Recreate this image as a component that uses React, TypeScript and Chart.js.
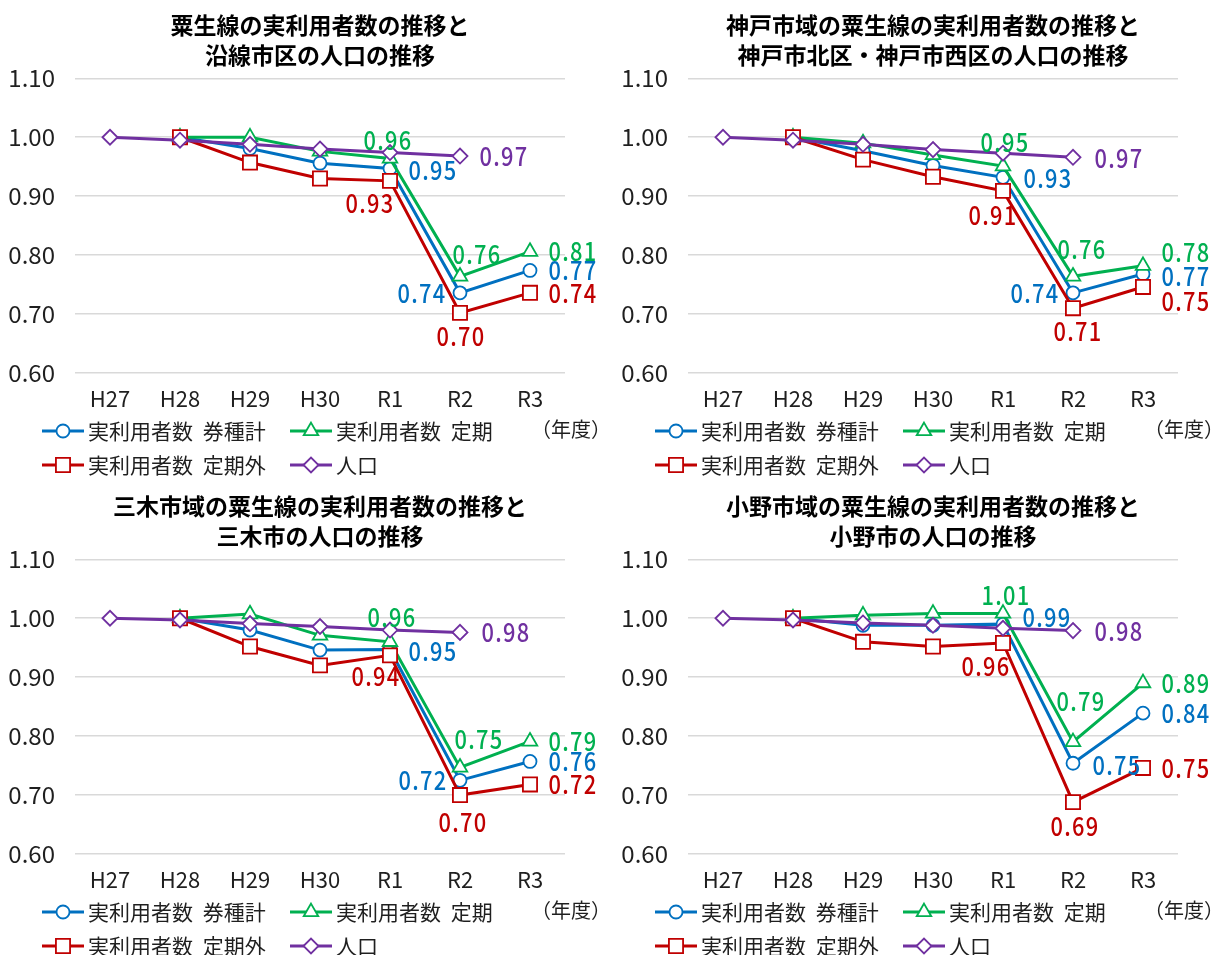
import React, { useEffect, useRef } from 'react';
import { Chart, registerables } from 'chart.js';

Chart.register(...registerables);

// ---------- shared categories / series meta ----------
const YEARS = ['H27', 'H28', 'H29', 'H30', 'R1', 'R2', 'R3'];
const SERIES_NAMES = ['実利用者数 券種計', '実利用者数 定期', '実利用者数 定期外', '人口'];
const SERIES_COLORS = ['#0070C0', '#00B050', '#C00000', '#7030A0'];
const SERIES_MARKERS = ['circle', 'triangle', 'rect', 'rectRot'];
const Y_MIN = 0.6;
const Y_MAX = 1.1;
const Y_STEP = 0.1;
const UNIT_LABEL = '（年度）';

// ---------- chart 1 ----------
const TITLE_1 = ['粟生線の実利用者数の推移と', '沿線市区の人口の推移'];
const TOTAL_1 = [null, 1.0, 0.981, 0.956, 0.947, 0.736, 0.774];
const TEIKI_1 = [null, 1.0, 1.0, 0.976, 0.964, 0.764, 0.806];
const TEIKIGAI_1 = [null, 1.0, 0.957, 0.93, 0.926, 0.702, 0.736];
const POP_1 = [1.0, 0.995, 0.988, 0.98, 0.974, 0.968, null];

// ---------- chart 2 ----------
const TITLE_2 = ['神戸市域の粟生線の実利用者数の推移と', '神戸市北区・神戸市西区の人口の推移'];
const TOTAL_2 = [null, 1.0, 0.977, 0.952, 0.932, 0.736, 0.768];
const TEIKI_2 = [null, 1.0, 0.99, 0.97, 0.951, 0.764, 0.782];
const TEIKIGAI_2 = [null, 1.0, 0.962, 0.933, 0.909, 0.71, 0.746];
const POP_2 = [1.0, 0.995, 0.988, 0.979, 0.973, 0.966, null];

// ---------- chart 3 ----------
const TITLE_3 = ['三木市域の粟生線の実利用者数の推移と', '三木市の人口の推移'];
const TOTAL_3 = [null, 1.0, 0.98, 0.946, 0.947, 0.725, 0.757];
const TEIKI_3 = [null, 1.0, 1.007, 0.971, 0.96, 0.747, 0.791];
const TEIKIGAI_3 = [null, 1.0, 0.952, 0.92, 0.937, 0.7, 0.718];
const POP_3 = [1.0, 0.997, 0.991, 0.986, 0.98, 0.976, null];

// ---------- chart 4 ----------
const TITLE_4 = ['小野市域の粟生線の実利用者数の推移と', '小野市の人口の推移'];
const TOTAL_4 = [null, 1.0, 0.988, 0.988, 0.99, 0.754, 0.839];
const TEIKI_4 = [null, 1.0, 1.005, 1.008, 1.008, 0.79, 0.89];
const TEIKIGAI_4 = [null, 1.0, 0.96, 0.952, 0.958, 0.688, 0.746];
const POP_4 = [1.0, 0.997, 0.992, 0.988, 0.983, 0.979, null];

// ---------- data-label placement (series index, category index, offset x, offset y) ----------
const LABELS_1 = [
  [1, 4, -2, -18], [0, 4, 43, 2], [2, 4, -20, 22],
  [3, 5, 44, 0], [1, 5, 17, -22], [0, 5, -38, 0], [2, 5, 1, 23],
  [1, 6, 43, 0], [0, 6, 43, 0], [2, 6, 43, 0],
];
const LABELS_2 = [
  [1, 4, 2, -24], [0, 4, 45, 1], [2, 4, -10, 24],
  [3, 5, 46, 1], [1, 5, 9, -27], [0, 5, -38, 0], [2, 5, 5, 23],
  [1, 6, 43, -14], [0, 6, 43, 2], [2, 6, 43, 14],
];
const LABELS_3 = [
  [1, 4, 2, -25], [0, 4, 43, 2], [2, 4, -14, 21],
  [3, 5, 46, 0], [1, 5, 19, -28], [0, 5, -37, 0], [2, 5, 3, 27],
  [1, 6, 43, 0], [0, 6, 43, 0], [2, 6, 43, 0],
];
const LABELS_4 = [
  [1, 4, 3, -18], [0, 4, 44, -7], [2, 4, -17, 23],
  [3, 5, 46, 1], [1, 5, 8, -41], [0, 5, 44, 2], [2, 5, 2, 24],
  [1, 6, 43, 0], [0, 6, 43, 0], [2, 6, 43, 0],
];

// ---------- styling ----------
const FONT_NUM = '"Noto Sans CJK JP", "Noto Sans", sans-serif';
const FONT_JP = '"Noto Sans CJK JP", "Noto Sans", sans-serif';
const TEXT_COLOR = '#1f1f1f';
const GRID_COLOR = '#d9d9d9';
const AREA_LEFT = 75;
const AREA_RIGHT = 565;
const AREA_BOTTOM = 373;
const X_AXIS_H = 40;
const POINT_RADIUS: Record<string, number> = { circle: 6.5, triangle: 8.4, rect: 10, rectRot: 7.5 };

function drawMarker(ctx: CanvasRenderingContext2D, style: string, x: number, y: number, color: string) {
  const r = POINT_RADIUS[style];
  ctx.save();
  ctx.beginPath();
  if (style === 'circle') {
    ctx.arc(x, y, r, 0, Math.PI * 2);
  } else if (style === 'triangle') {
    for (let k = 0; k < 3; k++) {
      const a = (k * 2 * Math.PI) / 3;
      const px = x + Math.sin(a) * r;
      const py = y - Math.cos(a) * r;
      if (k === 0) ctx.moveTo(px, py);
      else ctx.lineTo(px, py);
    }
    ctx.closePath();
  } else if (style === 'rect') {
    const s = Math.SQRT1_2 * r;
    ctx.rect(x - s, y - s, 2 * s, 2 * s);
  } else {
    ctx.moveTo(x - r, y);
    ctx.lineTo(x, y - r);
    ctx.lineTo(x + r, y);
    ctx.lineTo(x, y + r);
    ctx.closePath();
  }
  ctx.fillStyle = '#ffffff';
  ctx.fill();
  ctx.lineWidth = 1.8;
  ctx.strokeStyle = color;
  ctx.stroke();
  ctx.restore();
}

const annotatePlugin = {
  id: 'annotate',
  afterDatasetsDraw(chart: any, _args: any, opts: any) {
    const ctx: CanvasRenderingContext2D = chart.ctx;
    const squeeze = 0.84;
    for (const [ds, idx, dx, dy] of opts.labels as number[][]) {
      const pt = chart.getDatasetMeta(ds).data[idx];
      const v = chart.data.datasets[ds].data[idx] as number;
      if (!pt || v == null) continue;
      ctx.save();
      ctx.translate(pt.x + dx, pt.y + dy);
      ctx.scale(squeeze, 1);
      ctx.font = `500 26px ${FONT_NUM}`;
      (ctx as any).letterSpacing = '1.5px';
      ctx.textAlign = 'center';
      ctx.textBaseline = 'middle';
      ctx.fillStyle = SERIES_COLORS[ds];
      ctx.fillText(v.toFixed(2), 0, 0);
      ctx.restore();
    }
  },
  afterDraw(chart: any) {
    const ctx: CanvasRenderingContext2D = chart.ctx;
    const area = chart.chartArea;
    ctx.save();
    // legend
    for (let i = 0; i < SERIES_NAMES.length; i++) {
      const col = i % 2;
      const row = Math.floor(i / 2);
      const x0 = area.left - 33 + col * 248;
      const y = area.bottom + 58 + row * 34;
      ctx.beginPath();
      ctx.moveTo(x0, y);
      ctx.lineTo(x0 + 42, y);
      ctx.lineWidth = 3;
      ctx.strokeStyle = SERIES_COLORS[i];
      ctx.stroke();
      drawMarker(ctx, SERIES_MARKERS[i], x0 + 21, y, SERIES_COLORS[i]);
      ctx.font = `21px ${FONT_JP}`;
      ctx.fillStyle = TEXT_COLOR;
      ctx.textAlign = 'left';
      ctx.textBaseline = 'middle';
      (ctx as any).wordSpacing = '5px';
      ctx.fillText(SERIES_NAMES[i], x0 + 46, y);
      (ctx as any).wordSpacing = '0px';
    }
    // unit label
    ctx.font = `20px ${FONT_JP}`;
    ctx.fillStyle = TEXT_COLOR;
    ctx.textAlign = 'center';
    ctx.textBaseline = 'middle';
    ctx.fillText(UNIT_LABEL, area.right + 6, area.bottom + 56);
    ctx.restore();
  },
};

type PanelProps = {
  title: string[];
  series: (number | null)[][];
  labels: number[][];
  left: number;
  top: number;
  width: number;
  height: number;
};

function Panel({ title, series, labels, left, top, width, height }: PanelProps) {
  const ref = useRef<HTMLCanvasElement>(null);
  useEffect(() => {
    if (!ref.current) return;
    const chart = new Chart(ref.current, {
      type: 'line',
      data: {
        labels: YEARS,
        datasets: series.map((d, i) => ({
          label: SERIES_NAMES[i],
          data: d,
          borderColor: SERIES_COLORS[i],
          backgroundColor: '#ffffff',
          borderWidth: 3,
          pointStyle: SERIES_MARKERS[i] as any,
          pointRadius: POINT_RADIUS[SERIES_MARKERS[i]],
          pointBorderWidth: 1.8,
          pointBackgroundColor: '#ffffff',
          pointBorderColor: SERIES_COLORS[i],
          tension: 0,
          order: SERIES_NAMES.length - i,
        })),
      },
      options: {
        responsive: false,
        animation: false,
        devicePixelRatio: 1,
        layout: {
          padding: { left: 0, top: 0, right: width - AREA_RIGHT, bottom: height - AREA_BOTTOM - X_AXIS_H },
        },
        scales: {
          x: {
            type: 'category',
            offset: true,
            grid: { display: false, drawTicks: false },
            border: { display: false },
            ticks: { color: TEXT_COLOR, padding: 12, font: { family: FONT_NUM, size: 22, lineHeight: 1.2 } },
            afterFit: (s: any) => { s.height = X_AXIS_H; },
          },
          y: {
            min: Y_MIN,
            max: Y_MAX,
            grid: { color: GRID_COLOR, lineWidth: 1.6, drawTicks: false },
            border: { display: false },
            ticks: {
              stepSize: Y_STEP,
              color: TEXT_COLOR,
              padding: 20,
              font: { family: FONT_NUM, size: 24 },
              callback: (v: any) => Number(v).toFixed(2),
            },
            afterFit: (s: any) => { s.width = AREA_LEFT; },
          },
        },
        plugins: {
          legend: { display: false },
          tooltip: { enabled: false },
          title: {
            display: true,
            fullSize: false,
            text: title,
            color: '#000000',
            font: { family: FONT_JP, size: 23, weight: 'bold', lineHeight: 1.3 },
            padding: { top: 10.5, bottom: 8 },
          },
          annotate: { labels },
        } as any,
      },
      plugins: [annotatePlugin as any],
    });
    return () => chart.destroy();
  }, []);
  return (
    <canvas
      ref={ref}
      width={width}
      height={height}
      style={{ position: 'absolute', left, top, width, height }}
    />
  );
}

export default function App() {
  return (
    <div style={{ position: 'absolute', left: 0, top: 0, width: 1218, height: 955, background: '#ffffff', overflow: 'hidden' }}>
      <Panel title={TITLE_1} series={[TOTAL_1, TEIKI_1, TEIKIGAI_1, POP_1]} labels={LABELS_1} left={0} top={0} width={609} height={477} />
      <Panel title={TITLE_2} series={[TOTAL_2, TEIKI_2, TEIKIGAI_2, POP_2]} labels={LABELS_2} left={613} top={0} width={605} height={477} />
      <Panel title={TITLE_3} series={[TOTAL_3, TEIKI_3, TEIKIGAI_3, POP_3]} labels={LABELS_3} left={0} top={481} width={609} height={474} />
      <Panel title={TITLE_4} series={[TOTAL_4, TEIKI_4, TEIKIGAI_4, POP_4]} labels={LABELS_4} left={613} top={481} width={605} height={474} />
    </div>
  );
}
